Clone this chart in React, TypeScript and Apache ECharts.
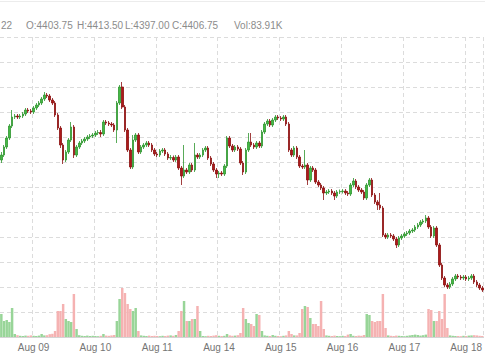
import React, { useEffect, useRef } from "react";
import * as echarts from "echarts";

// ---- sessions (hourly bars, Sep ES futures) ----
const range = (a: number, b: number) => { const r: number[] = []; for (let h = a; h <= b; h++) r.push(h); return r; };
const sessionDays = ["Aug 08", "Aug 09", "Aug 10", "Aug 11", "Aug 13", "Aug 14", "Aug 15", "Aug 16", "Aug 17", "Aug 18"];
const sessionHours = [
  [...range(11, 16), ...range(18, 23)],
  [...range(0, 16), ...range(18, 23)],
  [...range(0, 16), ...range(18, 23)],
  range(0, 16),
  range(18, 23),
  [...range(0, 16), ...range(18, 23)],
  [...range(0, 16), ...range(18, 23)],
  [...range(0, 16), ...range(18, 23)],
  [...range(0, 16), ...range(18, 23)],
  range(0, 6),
];
const categories: string[] = [];
sessionDays.forEach((d, k) => sessionHours[k].forEach((h) => categories.push(`${d} ${String(h).padStart(2, "0")}:00`)));

const opens = [
  4501.6, 4505.6, 4512.0, 4519.2, 4528.8, 4536.0, 4536.8, 4536.0, 4536.8, 4538.4,
  4541.6, 4540.8, 4540.0, 4543.2, 4545.6, 4547.2, 4550.4, 4553.6, 4552.8, 4549.6,
  4547.2, 4537.6, 4527.2, 4513.6, 4501.6, 4508.0, 4517.6, 4528.0, 4505.6, 4512.0,
  4515.2, 4516.8, 4518.4, 4520.0, 4520.8, 4521.6, 4523.2, 4523.6, 4522.4, 4532.0,
  4531.2, 4530.4, 4529.6, 4525.6, 4547.2, 4560.0, 4544.0, 4525.6, 4509.6, 4496.0,
  4517.6, 4521.6, 4508.0, 4512.0, 4513.6, 4515.2, 4513.6, 4509.6, 4506.4, 4505.6,
  4508.8, 4509.6, 4506.4, 4503.2, 4503.6, 4501.6, 4504.0, 4495.2, 4488.8, 4493.6,
  4492.0, 4497.6, 4493.6, 4505.6, 4504.0, 4505.6, 4509.6, 4511.2, 4503.2, 4498.4,
  4493.6, 4490.4, 4491.2, 4490.4, 4496.8, 4519.2, 4512.8, 4509.6, 4512.0, 4510.4,
  4499.2, 4492.0, 4509.6, 4516.0, 4513.6, 4512.0, 4515.2, 4512.8, 4524.0, 4530.4,
  4532.8, 4529.6, 4533.6, 4536.0, 4535.2, 4534.4, 4536.0, 4530.4, 4509.6, 4505.6,
  4511.2, 4504.0, 4496.8, 4496.0, 4497.6, 4485.6, 4495.2, 4493.6, 4484.0, 4481.6,
  4479.2, 4475.2, 4476.0, 4476.8, 4475.2, 4472.8, 4476.0, 4476.4, 4476.8, 4475.2,
  4474.4, 4481.6, 4484.8, 4480.0, 4477.6, 4476.0, 4471.2, 4481.6, 4485.6, 4473.6,
  4468.0, 4465.6, 4463.2, 4441.6, 4440.0, 4441.6, 4440.8, 4438.4, 4433.6, 4439.2,
  4440.8, 4442.4, 4443.2, 4444.8, 4445.6, 4448.0, 4449.6, 4452.0, 4452.8, 4455.2,
  4448.0, 4440.8, 4447.2, 4433.6, 4417.6, 4407.2, 4401.6, 4400.0, 4402.4, 4406.4,
  4408.8, 4408.0, 4407.2, 4408.0, 4406.4, 4407.2, 4408.8, 4404.0, 4401.6, 4399.2,
];
const closes = [
  4505.6, 4512.0, 4519.2, 4528.8, 4536.0, 4536.8, 4536.0, 4536.8, 4538.4, 4541.6,
  4540.8, 4540.0, 4543.2, 4545.6, 4547.2, 4550.4, 4553.6, 4552.8, 4549.6, 4547.2,
  4537.6, 4527.2, 4513.6, 4501.6, 4508.0, 4517.6, 4528.0, 4505.6, 4512.0, 4515.2,
  4516.8, 4518.4, 4520.0, 4520.8, 4521.6, 4523.2, 4523.6, 4522.4, 4532.0, 4531.2,
  4530.4, 4529.6, 4525.6, 4547.2, 4560.0, 4544.0, 4525.6, 4509.6, 4496.0, 4517.6,
  4521.6, 4508.0, 4512.0, 4513.6, 4515.2, 4513.6, 4509.6, 4506.4, 4505.6, 4508.8,
  4509.6, 4506.4, 4503.2, 4503.6, 4501.6, 4504.0, 4495.2, 4488.8, 4493.6, 4492.0,
  4497.6, 4493.6, 4505.6, 4504.0, 4505.6, 4509.6, 4511.2, 4503.2, 4498.4, 4493.6,
  4490.4, 4491.2, 4490.4, 4496.8, 4519.2, 4512.8, 4509.6, 4512.0, 4510.4, 4499.2,
  4492.0, 4509.6, 4516.0, 4513.6, 4512.0, 4515.2, 4512.8, 4524.0, 4530.4, 4532.8,
  4529.6, 4533.6, 4536.0, 4535.2, 4534.4, 4536.0, 4530.4, 4509.6, 4505.6, 4511.2,
  4504.0, 4496.8, 4496.0, 4497.6, 4485.6, 4495.2, 4493.6, 4484.0, 4481.6, 4479.2,
  4475.2, 4476.0, 4476.8, 4475.2, 4472.8, 4476.0, 4476.4, 4476.8, 4475.2, 4474.4,
  4481.6, 4484.8, 4480.0, 4477.6, 4476.0, 4471.2, 4481.6, 4485.6, 4473.6, 4468.0,
  4465.6, 4463.2, 4441.6, 4440.0, 4441.6, 4440.8, 4438.4, 4433.6, 4439.2, 4440.8,
  4442.4, 4443.2, 4444.8, 4445.6, 4448.0, 4449.6, 4452.0, 4452.8, 4455.2, 4448.0,
  4440.8, 4447.2, 4433.6, 4417.6, 4407.2, 4401.6, 4400.0, 4402.4, 4406.4, 4408.8,
  4408.0, 4407.2, 4408.0, 4406.4, 4407.2, 4408.8, 4404.0, 4401.6, 4399.2, 4397.6,
];
const highs = [
  4508.0, 4513.6, 4520.8, 4530.4, 4541.6, 4538.4, 4538.4, 4538.4, 4540.0, 4543.2,
  4543.2, 4542.4, 4544.8, 4547.2, 4548.8, 4552.0, 4556.0, 4555.2, 4554.4, 4551.2,
  4548.8, 4539.2, 4528.8, 4515.2, 4509.6, 4519.2, 4532.0, 4529.6, 4513.6, 4516.8,
  4518.4, 4520.0, 4521.6, 4522.4, 4523.2, 4524.8, 4525.6, 4525.6, 4533.6, 4533.6,
  4532.8, 4532.0, 4531.2, 4548.8, 4561.6, 4564.0, 4545.6, 4527.2, 4511.2, 4521.6,
  4523.2, 4523.2, 4513.6, 4515.2, 4516.8, 4516.8, 4515.2, 4511.2, 4508.0, 4510.4,
  4511.2, 4511.2, 4508.0, 4505.6, 4505.2, 4505.6, 4505.6, 4496.8, 4513.6, 4495.2,
  4499.2, 4499.2, 4515.2, 4507.2, 4507.2, 4511.2, 4512.8, 4512.8, 4504.8, 4500.0,
  4495.2, 4492.8, 4492.8, 4498.4, 4520.8, 4520.8, 4514.4, 4513.6, 4513.6, 4512.0,
  4500.8, 4511.2, 4523.2, 4523.2, 4515.2, 4516.8, 4516.8, 4525.6, 4532.0, 4534.4,
  4534.4, 4535.2, 4537.6, 4537.6, 4536.8, 4537.6, 4537.6, 4532.0, 4511.2, 4512.8,
  4512.8, 4505.6, 4498.4, 4509.6, 4499.2, 4496.8, 4496.8, 4495.2, 4485.6, 4483.2,
  4480.8, 4477.6, 4478.4, 4478.4, 4476.8, 4477.6, 4478.0, 4478.4, 4478.4, 4476.8,
  4483.2, 4487.2, 4486.4, 4481.6, 4479.2, 4477.6, 4483.2, 4487.2, 4487.2, 4475.2,
  4469.6, 4475.2, 4464.8, 4443.2, 4443.2, 4443.2, 4442.4, 4440.0, 4440.8, 4442.4,
  4444.0, 4444.8, 4446.4, 4447.2, 4449.6, 4451.2, 4453.6, 4454.4, 4457.6, 4456.8,
  4449.6, 4448.8, 4448.8, 4435.2, 4419.2, 4408.8, 4403.2, 4404.0, 4408.0, 4410.4,
  4410.4, 4409.6, 4409.6, 4409.6, 4408.8, 4410.4, 4410.4, 4405.6, 4403.2, 4400.8,
];
const lows = [
  4499.2, 4504.0, 4510.4, 4517.6, 4527.2, 4534.4, 4534.4, 4534.4, 4535.2, 4536.8,
  4539.2, 4538.4, 4538.4, 4541.6, 4544.0, 4545.6, 4548.8, 4551.2, 4548.0, 4545.6,
  4536.0, 4525.6, 4511.2, 4498.4, 4500.0, 4506.4, 4516.0, 4503.2, 4504.0, 4510.4,
  4513.6, 4515.2, 4516.8, 4518.4, 4519.2, 4520.0, 4521.6, 4520.0, 4520.8, 4529.6,
  4528.8, 4528.0, 4524.0, 4515.2, 4545.6, 4542.4, 4524.0, 4508.0, 4494.4, 4494.4,
  4516.0, 4506.4, 4506.4, 4510.4, 4512.0, 4512.0, 4508.0, 4504.8, 4504.0, 4504.0,
  4507.2, 4504.8, 4501.6, 4501.6, 4500.0, 4500.0, 4493.6, 4481.6, 4487.2, 4490.4,
  4490.4, 4492.0, 4492.0, 4502.4, 4502.4, 4504.0, 4508.0, 4501.6, 4496.8, 4492.0,
  4487.2, 4487.2, 4488.8, 4488.8, 4495.2, 4511.2, 4508.0, 4508.0, 4508.8, 4497.6,
  4489.6, 4490.4, 4508.0, 4512.0, 4510.4, 4510.4, 4511.2, 4511.2, 4522.4, 4528.8,
  4528.0, 4528.0, 4532.0, 4533.6, 4532.8, 4532.8, 4528.8, 4508.0, 4504.0, 4504.0,
  4502.4, 4495.2, 4494.4, 4494.4, 4481.6, 4484.0, 4492.0, 4482.4, 4480.0, 4477.6,
  4469.6, 4473.6, 4474.4, 4473.6, 4469.6, 4471.2, 4474.4, 4474.8, 4473.6, 4472.8,
  4472.8, 4480.0, 4478.4, 4476.0, 4474.4, 4469.6, 4469.6, 4480.0, 4472.0, 4466.4,
  4461.6, 4461.6, 4440.0, 4438.4, 4438.4, 4439.2, 4436.8, 4431.2, 4432.0, 4437.6,
  4439.2, 4440.8, 4441.6, 4443.2, 4444.0, 4446.4, 4448.0, 4450.4, 4451.2, 4446.4,
  4439.2, 4439.2, 4432.0, 4416.0, 4405.6, 4400.0, 4398.4, 4398.4, 4400.8, 4404.8,
  4406.4, 4405.6, 4405.6, 4404.8, 4404.8, 4405.6, 4402.4, 4400.0, 4397.6, 4396.0,
];
// hourly volume, thousands of contracts
const volumes = [
  115, 80, 85, 75, 145, 15, 9, 6, 5, 7,
  6, 8, 6, 5, 7, 15, 8, 9, 14, 16,
  30, 130, 130, 165, 90, 80, 75, 215, 40, 9,
  6, 5, 7, 5, 6, 5, 4, 6, 15, 7,
  6, 8, 10, 80, 190, 245, 220, 165, 140, 130,
  145, 30, 8, 6, 5, 7, 5, 6, 5, 4,
  6, 5, 7, 8, 6, 10, 30, 130, 180, 80,
  80, 90, 90, 155, 30, 5, 4, 6, 5, 7,
  9, 6, 5, 6, 15, 8, 6, 7, 9, 20,
  145, 90, 70, 65, 55, 115, 110, 30, 8, 6,
  5, 10, 6, 5, 4, 6, 8, 30, 15, 8,
  8, 20, 140, 155, 150, 95, 65, 65, 55, 180,
  40, 8, 6, 5, 7, 5, 4, 6, 5, 12,
  15, 6, 5, 7, 6, 10, 115, 110, 80, 75,
  80, 80, 215, 45, 8, 6, 5, 7, 6, 5,
  4, 6, 8, 10, 12, 10, 7, 9, 12, 140,
  135, 80, 80, 130, 90, 215, 45, 8, 6, 5,
  5, 4, 6, 5, 7, 8, 9, 8, 6, 5,
];
const dayTickLabels = ["Aug 09", "Aug 10", "Aug 11", "Aug 14", "Aug 15", "Aug 16", "Aug 17", "Aug 18"];
const headerTexts = ["22", "O:4403.75", "H:4413.50", "L:4397.00", "C:4406.75", "Vol:83.91K"];

const UP = "#45b845";
const UP_BORDER = "#2e962e";
const DOWN = "#ad1a1a";
const DOWN_BORDER = "#8a0f0f";
const VOL_UP = "#98d598";
const VOL_DOWN = "#f5b2b2";
const GRID = "#dcdcdc";

export default function App() {
  const ref = useRef<HTMLDivElement>(null);
  useEffect(() => {
    document.body.style.margin = "0";
    if (!ref.current) return;
    const chart = echarts.init(ref.current, undefined, { renderer: "svg" });
    const isDayStart = (i: number) => {
      const c = categories[i];
      return !!c && c.endsWith(" 00:00") && dayTickLabels.includes(c.slice(0, 6));
    };
    const headerX = [1, 26, 77, 125, 172, 234];
    chart.setOption({
      animation: false,
      backgroundColor: "#ffffff",
      grid: { left: 0, right: 0, top: 37, height: 300, containLabel: false },
      xAxis: {
        type: "category",
        data: categories,
        boundaryGap: true,
        axisLine: { show: true, lineStyle: { color: "#d4d4d4" } },
        axisTick: { show: false },
        axisLabel: {
          interval: (i: number) => isDayStart(i),
          formatter: (v: string) => v.slice(0, 6),
          color: "#757575",
          fontSize: 10,
          fontFamily: "Arial, Liberation Sans, sans-serif",
          margin: 5,
        },
        splitLine: {
          show: true,
          interval: (i: number) => isDayStart(i),
          lineStyle: { color: GRID, type: [4, 3], width: 1 },
        },
      },
      yAxis: [
        {
          type: "value",
          min: 4360,
          max: 4600,
          interval: 20,
          position: "right",
          axisLabel: { show: false },
          axisLine: { show: false },
          axisTick: { show: false },
          splitLine: { show: true, lineStyle: { color: GRID, type: [4, 3], width: 1 } },
        },
        { type: "value", min: 0, max: 1500, show: false, splitLine: { show: false } },
      ],
      series: [
        {
          type: "bar",
          yAxisIndex: 1,
          barCategoryGap: "8%",
          data: volumes.map((v, i) => ({
            value: v,
            itemStyle: { color: closes[i] >= opens[i] ? VOL_UP : VOL_DOWN },
          })),
          silent: true,
        },
        {
          type: "candlestick",
          barWidth: "75%",
          data: opens.map((o, i) => [o, closes[i], lows[i], highs[i]]),
          itemStyle: {
            color: UP,
            color0: DOWN,
            borderColor: UP_BORDER,
            borderColor0: DOWN_BORDER,
            borderWidth: 0.8,
          },
          silent: true,
        },
      ],
      graphic: [
        { type: "line", shape: { x1: 0, y1: 1.5, x2: 485, y2: 1.5 }, style: { stroke: "#ececec", lineWidth: 1 }, silent: true },
        ...headerTexts.map((t, k) => ({
          type: "text",
          x: headerX[k],
          y: 25,
          style: {
            text: t,
            fill: "#8c8c8c",
            font: "10px Arial, 'Liberation Sans', sans-serif",
            textAlign: "left",
            textVerticalAlign: "middle",
          },
          silent: true,
        })),
      ],
    });
    return () => chart.dispose();
  }, []);
  return <div ref={ref} style={{ width: 485, height: 360 }} />;
}
